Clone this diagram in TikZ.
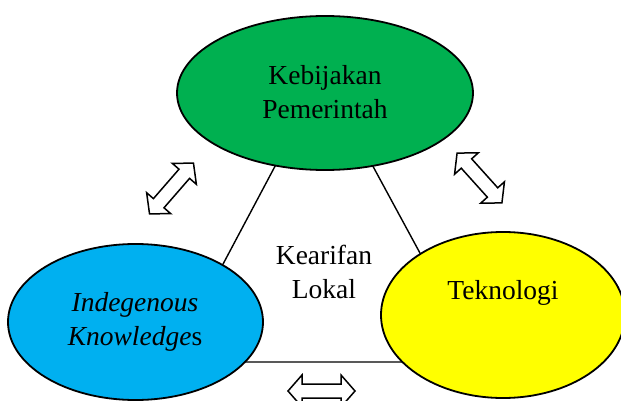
\documentclass[tikz,border=0pt]{standalone}
\usepackage{fontspec}
\setmainfont{Liberation Serif}
\usetikzlibrary{shapes.geometric}
\definecolor{ovgreen}{HTML}{00B050}
\definecolor{ovblue}{HTML}{00B0F0}
\definecolor{ovyellow}{HTML}{FFFF00}
\begin{document}
\begin{tikzpicture}[x=1pt,y=-1pt,
  oval/.style={ellipse, draw=black, line width=1.8pt, inner sep=0pt},
  caption/.style={font=\fontsize{27.5}{34}\selectfont, align=center, inner sep=0pt},
  side/.style={line width=1.4pt},
  arrowbox/.style={draw=black, fill=white, line width=1.5pt, line join=miter},
  dblarrow/.pic={\draw[arrowbox] (-33.5,0) -- (-19.5,-16) -- (-19.5,-7) -- (19.5,-7)
      -- (19.5,-16) -- (33.5,0) -- (19.5,16) -- (19.5,7) -- (-19.5,7) -- (-19.5,16) -- cycle;}
]
\useasboundingbox (0,0) rectangle (621,401);

% triangle joining the three themes (its corners lie under the ovals)
\coordinate (vtop) at (323.5,75);
\coordinate (vleft) at (171,362);
\coordinate (vright) at (479,362);
\draw[side] (vtop) -- (vleft) -- (vright) -- cycle;

% the three ovals
\node[oval, fill=ovgreen, minimum width=296pt, minimum height=154pt] (gov) at (325,93) {};
\node[oval, fill=ovblue, minimum width=255pt, minimum height=156pt] (ik) at (135.5,322) {};
\node[oval, fill=ovyellow, minimum width=244pt, minimum height=166pt] (tech) at (503,315) {};

% texts
\node[caption] (govtext) at (325,92) {Kebijakan\\Pemerintah};
\node[caption] (iktext) at (135,322) {\itshape Indegenous\\\itshape Knowledge{\upshape s}};
\node[caption] (techtext) at (503,293) {Teknologi};
\node[caption] (centre) at (324,272) {Kearifan\\Lokal};

% two-way arrows between the themes
\pic[rotate=49] (arrowleft) at (171.5,188.5) {dblarrow};
\pic[rotate=-48] (arrowright) at (479.5,178) {dblarrow};
\pic (arrowbottom) at (321.5,391) {dblarrow};
\end{tikzpicture}
\end{document}
